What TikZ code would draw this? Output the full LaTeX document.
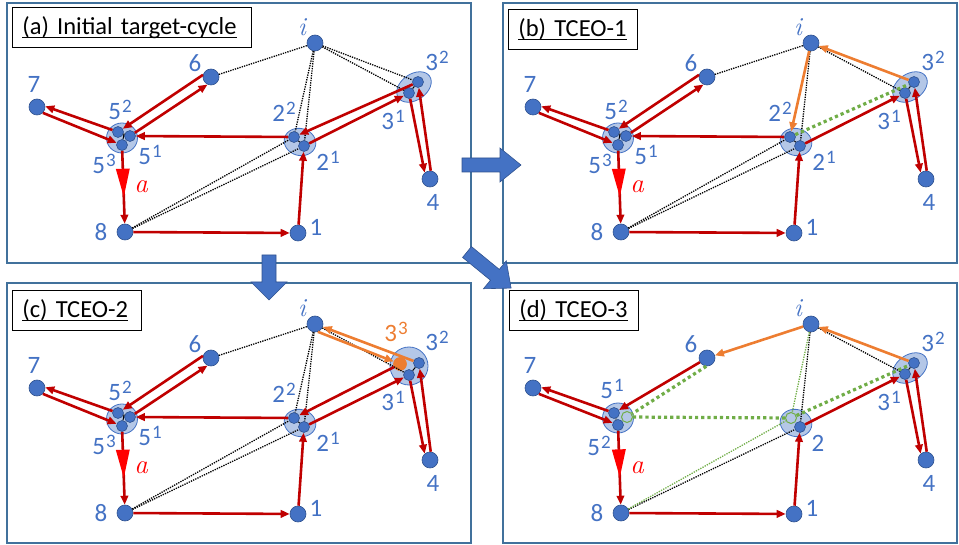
\documentclass[tikz,border=0pt]{standalone}
\usepackage{fontspec}
\newfontfamily\carl{Carlito}
\usetikzlibrary{arrows.meta,shapes.geometric,decorations.markings,calc}
\definecolor{nblue}{HTML}{4472C4}
\definecolor{nblueD}{HTML}{2F528F}
\definecolor{clfill}{HTML}{B4C7E7}
\definecolor{dred}{HTML}{C00000}
\definecolor{bred}{HTML}{FF0000}
\definecolor{norange}{HTML}{ED7D31}
\definecolor{ngreen}{HTML}{70AD47}
\definecolor{fblue}{HTML}{41719C}

\newcommand\spx[1]{\kern1pt\raisebox{7pt}{\fontsize{19}{19}\selectfont #1}}
\newcommand\uln[1]{\setbox0=\hbox{#1}\rlap{\rule[-3.5pt]{\wd0}{1.2pt}}\box0}

\tikzset{
 vtx/.style={circle, fill=nblue, draw=nblueD, line width=0.6pt, minimum size=16pt, inner sep=0pt},
 svtx/.style={vtx, minimum size=11pt},
 ovtx/.style={vtx, fill=norange, draw=norange, minimum size=13pt},
 gvtx/.style={circle, fill=clfill, draw=ngreen, line width=1pt, minimum size=11pt, inner sep=0pt},
 clus/.style={ellipse, fill=clfill, draw=nblue, line width=0.8pt, inner sep=0pt},
 lbl/.style={text=nblue, font=\carl\fontsize{25}{25}\selectfont, inner sep=0pt},
 olbl/.style={lbl, text=norange},
 ilbl/.style={text=nblue, font=\fontsize{26}{26}\selectfont\itshape, inner sep=0pt},
 albl/.style={text=bred, font=\fontsize{27}{27}\selectfont\itshape, inner sep=0pt},
 redarr/.style={draw=dred, line width=2.6pt, -{Triangle[length=9pt,width=7.5pt]}},
 orarr/.style={draw=norange, line width=2.6pt, -{Triangle[length=9pt,width=7.5pt]}},
 bdots/.style={draw=black, line width=1.3pt, dash pattern=on 1.3pt off 1.1pt},
 gthick/.style={draw=ngreen, line width=3.2pt, dash pattern=on 3.2pt off 3pt},
 gthin/.style={draw=ngreen, line width=1.3pt, dash pattern=on 1.3pt off 1.2pt},
 inlink/.style={draw=black, line width=1pt},
 pframe/.style={draw=fblue, line width=1.3pt},
 tbox/.style={draw=black, line width=0.8pt, fill=white, anchor=north west, inner xsep=10pt, inner ysep=0pt, minimum height=40pt, align=left, font=\carl\fontsize{24.5}{24.5}\selectfont},
 barr/.style={fill=nblue, draw=nblueD, line width=0.6pt},
 bigtri/.style={postaction={decorate}, decoration={markings, mark=at position 0.63 with {\fill[bred] (0pt,0pt) -- (-28pt,7pt) -- (-28pt,-7pt) -- cycle;}}},
}

% nodes common to every panel
\newcommand\outernodes[1]{%
 \node[vtx] (#1i) at (315,43) {};
 \node[vtx] (#16) at (211,77) {};
 \node[vtx] (#17) at (37,107) {};
 \node[vtx] (#14) at (430,179) {};
 \node[vtx] (#18) at (125,232) {};
 \node[vtx] (#11) at (298,233) {};
 \node[ilbl] (#1Li) at (302,27) {i};
 \node[lbl] (#1L6) at (195,63) {6};
 \node[lbl] (#1L7) at (34,84) {7};
 \node[lbl] (#1L4) at (433,202) {4};
 \node[lbl] (#1L8) at (101,232) {8};
 \node[lbl] (#1L1) at (316,227) {1};
 \node[albl] (#1La) at (141,187) {a};
}
\newcommand\fiveclus[1]{%
 \node[clus, minimum width=31pt, minimum height=30pt] (#1c5) at (122,138) {};
 \node[svtx] (#1n52) at (118,132) {};
 \node[svtx] (#1n51) at (130,136) {};
 \node[svtx] (#1n53) at (122,145) {};
 \draw[inlink] (#1n52) -- (#1n51);
 \draw[inlink] (#1n53) -- ($(#1n52)!0.5!(#1n51)$);
 \node[lbl] (#1L52) at (120,110) {5\spx{2}};
 \node[lbl] (#1L51) at (150,155) {5\spx{1}};
 \node[lbl] (#1L53) at (104,164) {5\spx{3}};
}
\newcommand\twoclus[1]{%
 \node[clus, minimum width=32pt, minimum height=27pt, rotate=-15] (#1c2) at (300,142) {};
 \node[svtx] (#1n22) at (294,137) {};
 \node[svtx] (#1n21) at (304,146) {};
 \draw[inlink] (#1n22) -- (#1n21);
 \node[lbl] (#1L22) at (284,112) {2\spx{2}};
 \node[lbl] (#1L21) at (328,161) {2\spx{1}};
}
\newcommand\threeclus[1]{%
 \node[clus, minimum width=38pt, minimum height=26pt, rotate=35] (#1c3) at (414,87) {};
 \node[svtx] (#1n32) at (418,82) {};
 \node[svtx] (#1n31) at (409,93) {};
 \draw[inlink] (#1n32) -- (#1n31);
 \node[lbl] (#1L32) at (437,61) {3\spx{2}};
 \node[lbl] (#1L31) at (393,120) {3\spx{1}};
}
\newcommand\leftred[1]{%
 \draw[redarr] (#16.165) -- (#1n52);
 \draw[redarr] (#1n51) -- (#16.245);
 \draw[redarr] (#1n52) -- (#17.5);
 \draw[redarr] (#17.315) -- (#1n53);
 \draw[redarr] (#1n22) -- (#1n51);
 \draw[redarr,bigtri] (#1n53) -- (#18);
 \draw[redarr] (#18) -- (#11);
 \draw[redarr] (#11) -- (#1n21);
}
\newcommand\rightred[1]{%
 \draw[redarr] (#1n21) -- (#1n31);
 \draw[redarr] (#1n31) -- (#14.130);
 \draw[redarr] (#14.85) -- (#1n32);
}

\begin{document}
\begin{tikzpicture}[x=1pt,y=-1pt]
\useasboundingbox (0,0) rectangle (959,545);

% ---------- (a) ----------
\begin{scope}
 \draw[pframe] (7,3) rectangle (471,263);
 \node[tbox, text width=219pt] (atitle) at (12,7) {\mbox{\uln{(a) Initial target-cycle}}};
 \fiveclus{a}\twoclus{a}\threeclus{a}\outernodes{a}
 \draw[bdots] (a6) -- (ai);
 \draw[bdots] (ai) -- (an22);
 \draw[bdots] (ai) -- (an21);
 \draw[bdots] (ai) -- (an32);
 \draw[bdots] (ai) -- (an31);
 \draw[bdots] (a8) -- (an22);
 \draw[bdots] (a8) -- (an21);
 \leftred{a}\rightred{a}
 \draw[redarr] (an32) -- (an22);
\end{scope}

% ---------- (b) ----------
\begin{scope}[shift={(496,0)}]
 \draw[pframe] (7,3) rectangle (461,263);
 \node[tbox, text width=109pt] (btitle) at (12,9) {\mbox{\uln{(b) TCEO-1}}};
 \fiveclus{b}\twoclus{b}\threeclus{b}\outernodes{b}
 \draw[bdots] (b6) -- (bi);
 \draw[bdots] (bi) -- (bn21);
 \draw[bdots] (bi) -- (bn31);
 \draw[bdots] (b8) -- (bn22);
 \draw[bdots] (b8) -- (bn21);
 \draw[gthick] (bn22) -- (bn32);
 \leftred{b}\rightred{b}
 \draw[orarr] (bn32) -- (bi);
 \draw[orarr] (bi) -- (bn22);
\end{scope}

% ---------- (c) ----------
\begin{scope}[shift={(0,281)}]
 \draw[pframe] (7,2) rectangle (471,262);
 \node[tbox, text width=109pt] (ctitle) at (12,9) {\mbox{\uln{(c) TCEO-2}}};
 \fiveclus{c}\twoclus{c}
 \node[clus, minimum width=38pt, minimum height=38pt] (cc3) at (409,85) {};
 \node[svtx] (cn32) at (419,82) {};
 \node[svtx] (cn31) at (409,94) {};
 \node[ovtx] (cn33) at (400,83) {};
 \draw[inlink] (cn32) -- (cn31);
 \node[lbl] (cL32) at (437,60) {3\spx{2}};
 \node[lbl] (cL31) at (393,120) {3\spx{1}};
 \node[olbl] (cL33) at (396,51) {3\spx{3}};
 \outernodes{c}
 \draw[bdots] (c6) -- (ci);
 \draw[bdots] (ci) -- (cn22);
 \draw[bdots] (ci) -- (cn21);
 \draw[bdots] (ci) -- (cn31);
 \draw[bdots] (c8) -- (cn22);
 \draw[bdots] (c8) -- (cn21);
 \leftred{c}\rightred{c}
 \draw[redarr] (cn33) -- (cn22);
 \draw[orarr] (cn32) -- (ci.340);
 \draw[orarr] (ci.290) -- (cn33);
\end{scope}

% ---------- (d) ----------
\begin{scope}[shift={(496,281)}]
 \draw[pframe] (7,2) rectangle (461,262);
 \node[tbox, text width=109pt] (dtitle) at (13,9) {\mbox{\uln{(d) TCEO-3}}};
 \node[clus, minimum width=31pt, minimum height=30pt] (dc5) at (122,137) {};
 \node[svtx] (d5a) at (118,132) {};
 \node[svtx] (d5b) at (122,144) {};
 \node[gvtx] (dg5) at (131,136) {};
 \draw[inlink] (d5a) -- (d5b);
 \node[lbl] (dL51) at (116,108) {5\spx{1}};
 \node[lbl] (dL52) at (103,165) {5\spx{2}};
 \node[clus, minimum width=32pt, minimum height=27pt, rotate=-15] (dc2) at (300,142) {};
 \node[gvtx] (dg2) at (295,137) {};
 \node[svtx] (d2x) at (304,146) {};
 \node[lbl] (dL2) at (322,162) {2};
 \threeclus{d}\outernodes{d}
 \draw[bdots] (d8) -- (d2x);
 \draw[bdots] (di) -- (d2x);
 \draw[bdots] (di) -- (dn31);
 \draw[gthin] (d8) -- (dg2);
 \draw[gthin] (di) -- (dg2);
 \draw[gthick] (d6.265) -- (dg5);
 \draw[gthick] (dg5) -- (dg2);
 \draw[gthick] (dg2) -- (dn32);
 \draw[redarr] (d6) -- (d5a);
 \draw[redarr] (d5a) -- (d7.5);
 \draw[redarr] (d7.315) -- (d5b);
 \draw[redarr,bigtri] (d5b) -- (d8);
 \draw[redarr] (d8) -- (d1);
 \draw[redarr] (d1) -- (d2x);
 \draw[redarr] (d2x) -- (dn31);
 \draw[redarr] (dn31) -- (d4.130);
 \draw[redarr] (d4.85) -- (dn32);
 \draw[orarr] (dn32) -- (di);
 \draw[orarr] (di) -- (d6);
\end{scope}

% ---------- block arrows between panels ----------
\draw[barr] (462,158) -- (500,158) -- (500,148) -- (521,165) -- (500,182) -- (500,172) -- (462,172) -- cycle;
\draw[barr] (262,255) -- (276,255) -- (276,282) -- (287,282) -- (269,300) -- (251,282) -- (262,282) -- cycle;
\draw[barr, shift={(467,252)}, rotate=-39.3] (0,7) -- (36,7) -- (36,18) -- (57,0) -- (36,-18) -- (36,-7) -- (0,-7) -- cycle;
\end{tikzpicture}
\end{document}
